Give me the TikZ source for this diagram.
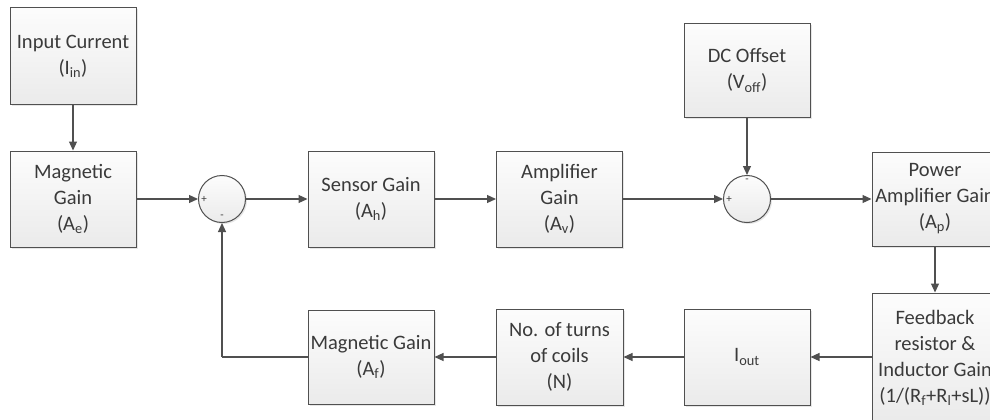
\documentclass[tikz,border=0pt]{standalone}
\usepackage{fontspec}
\setmainfont{Carlito}
\usetikzlibrary{shapes,arrows.meta,positioning,shadows}

\definecolor{lncol}{HTML}{505050}
\definecolor{txcol}{HTML}{3A3A3A}

\tikzset{
    blk/.style={draw=lncol, line width=1pt, rectangle, align=center,
        top color=gray!2, bottom color=gray!16, text=txcol,
        minimum width=126pt, minimum height=96pt, inner sep=1pt,
        font=\fontsize{20.5}{26}\selectfont,
        drop shadow={shadow xshift=1.5pt, shadow yshift=-1.5pt, opacity=0.2}},
    sumj/.style={draw=lncol, line width=1pt, circle, minimum size=47pt,
        top color=gray!2, bottom color=gray!16,
        drop shadow={shadow xshift=1.5pt, shadow yshift=-1.5pt, opacity=0.2}},
    sgn/.style={inner sep=0pt, text=txcol, font=\fontsize{11}{11}\selectfont},
    arr/.style={draw=lncol, line width=1.2pt, -{Triangle[length=9pt,width=8pt]}},
    lnk/.style={draw=lncol, line width=1.2pt}
}

\begin{document}
\begin{tikzpicture}[x=1pt,y=-1pt]
    \useasboundingbox (0,0) rectangle (990,420);
    \clip (0,0) rectangle (990,420);

    % top row
    \node[blk] (incur) at (73,56) {Input Current\\(I\textsubscript{in})};
    \node[blk, minimum height=93pt] (dcoff) at (747,70.5) {DC Offset\\(V\textsubscript{off})};

    % forward path
    \node[blk] (mage) at (73,199) {Magnetic\\Gain\\(A\textsubscript{e})};
    \node[sumj] (sum1) at (222,199) {};
    \node[blk] (sens) at (371,199) {Sensor Gain\\(A\textsubscript{h})};
    \node[blk] (ampl) at (559.5,199) {Amplifier\\Gain\\(A\textsubscript{v})};
    \node[sumj] (sum2) at (747,199) {};
    \node[blk, minimum height=94pt] (powa) at (935,199) {Power\\Amplifier Gain\\(A\textsubscript{p})};

    % feedback path
    \node[blk, minimum height=129pt] (fbres) at (935,357.5) {Feedback\\resistor \&\\Inductor Gain\\(1/(R\textsubscript{f}+R\textsubscript{l}+sL))};
    \node[blk] (iout) at (747,357) {I\textsubscript{out}};
    \node[blk, minimum width=127pt] (turns) at (559.5,357) {No. of turns\\of coils\\(N)};
    \node[blk, minimum height=94pt] (magf) at (371,357) {Magnetic Gain\\(A\textsubscript{f})};

    % signs
    \node[sgn] (s1p) at ([xshift=6pt]sum1.west) {+};
    \node[sgn] (s1m) at ([yshift=6pt]sum1.south) {-};
    \node[sgn] (s2p) at ([xshift=6pt]sum2.west) {+};
    \node[sgn] (s2m) at ([yshift=-6pt]sum2.north) {-};

    % connections
    \draw[arr] (incur) -- (mage);
    \draw[arr] (dcoff) -- (sum2);
    \draw[arr] (powa) -- (fbres);
    \foreach \a/\b in {mage/sum1, sum1/sens, sens/ampl, ampl/sum2, sum2/powa,
                       iout/turns, turns/magf}
    {
        \draw[arr] (\a) -- (\b);
    };
    \draw[arr] (fbres.west |- iout) -- (iout);
    \draw[lnk] (magf.west) -- (sum1 |- magf.west) coordinate (fbk);
    \draw[arr] (fbk) -- (sum1.south);

\end{tikzpicture}
\end{document}
